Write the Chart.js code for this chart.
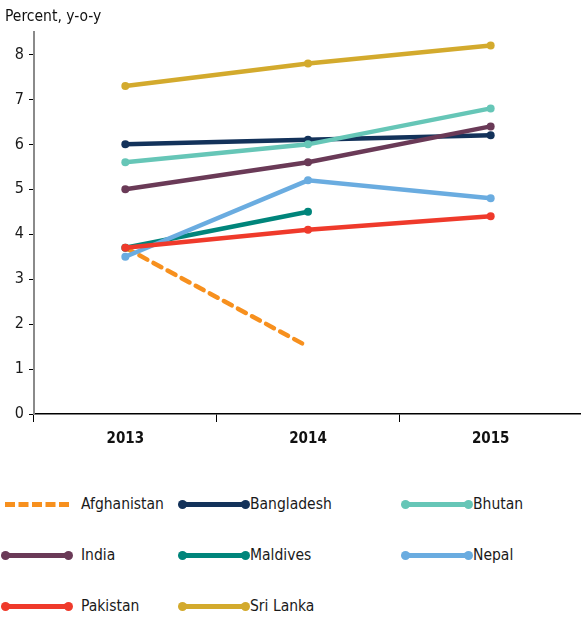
<!DOCTYPE html>
<html>
<head>
<meta charset="utf-8">
<title>Percent, y-o-y</title>
<script src="https://cdn.jsdelivr.net/npm/chart.js"></script>
<style>
  body { margin: 0; background: #fff; font-family: 'Liberation Sans Narrow', 'DejaVu Sans Condensed', sans-serif; }
  #wrap { position: relative; width: 581px; height: 618px; overflow: hidden; }
  #box { position: absolute; left: 0; top: 0; width: 586px; height: 460px; }
  #titulo { position: absolute; left: 5px; top: 7px; font-size: 15.5px; color: #111; }
  .item { position: absolute; height: 20px; display: flex; align-items: center; font-size: 15.5px; color: #1a1a1a; }
  .line { position: relative; width: 64px; height: 0; border-top: 5px solid; }
  .line.dash { border-top-style: dashed; }
  .line .dot { position: absolute; top: -7px; width: 9px; height: 9px; border-radius: 50%; }
</style>
</head>
<body>
<div id="wrap">
  <div id="box"><canvas id="grafico"></canvas></div>
  <div id="titulo">Percent, y-o-y</div>
  <div id="leyenda"></div>
</div>
<script>
// datos
const years = ['2013', '2014', '2015'];
const afghanistan = [3.7, 1.5, null];
const bangladesh = [6.0, 6.1, 6.2];
const bhutan = [5.6, 6.0, 6.8];
const india = [5.0, 5.6, 6.4];
const maldives = [3.7, 4.5, null];
const nepal = [3.5, 5.2, 4.8];
const pakistan = [3.7, 4.1, 4.4];
const sriLanka = [7.3, 7.8, 8.2];
const yTicks = [0, 1, 2, 3, 4, 5, 6, 7, 8];

const series = [
  { label: 'Afghanistan', data: afghanistan, color: '#f7901e', dash: true },
  { label: 'Bangladesh', data: bangladesh, color: '#13325a' },
  { label: 'Bhutan', data: bhutan, color: '#66c6b7' },
  { label: 'India', data: india, color: '#6a3a57' },
  { label: 'Maldives', data: maldives, color: '#00857b' },
  { label: 'Nepal', data: nepal, color: '#6aace0' },
  { label: 'Pakistan', data: pakistan, color: '#ef3a2b' },
  { label: 'Sri Lanka', data: sriLanka, color: '#d3aa2d' }
];

const fuente = "'Liberation Sans Narrow', 'DejaVu Sans Condensed', sans-serif";

const datasets = series.map((s, i) => ({
  label: s.label,
  data: s.data,
  borderColor: s.color,
  backgroundColor: s.color,
  borderWidth: 4.5,
  borderDash: s.dash ? [9, 7] : [],
  borderCapStyle: s.dash ? 'round' : 'butt',
  pointRadius: s.dash ? 0 : 4,
  pointHoverRadius: s.dash ? 0 : 4,
  pointBorderWidth: 0,
  tension: 0,
  order: series.length - i
}));

new Chart(document.getElementById('grafico'), {
  type: 'line',
  data: { labels: years, datasets: datasets },
  options: {
    responsive: true,
    maintainAspectRatio: false,
    animation: false,
    layout: { padding: { top: 32, right: 0, left: 0, bottom: 0 } },
    plugins: {
      legend: { display: false },
      tooltip: { enabled: false }
    },
    scales: {
      x: {
        offset: true,
        grid: { display: true, offset: true, drawOnChartArea: false, drawTicks: true, tickLength: 8, color: '#000', lineWidth: 1 },
        border: { display: true, color: '#000', width: 1.5 },
        ticks: { color: '#111', font: { family: fuente, size: 15, weight: 'bold' }, padding: 8 },
        afterFit: (s) => { s.height = 46; }
      },
      y: {
        min: 0,
        max: 8.5,
        afterBuildTicks: (s) => { s.ticks = yTicks.map(v => ({ value: v })); },
        grid: { display: true, drawOnChartArea: false, drawTicks: true, tickLength: 5, color: '#000', lineWidth: 1 },
        border: { display: true, color: '#8a8a8a', width: 2 },
        ticks: { color: '#1a1a1a', font: { family: fuente, size: 16 }, padding: 5 },
        afterFit: (s) => { s.width = 34; }
      }
    }
  }
});

// leyenda en html, tres columnas
const cols = [5, 182, 405];
const gaps = [12, 4, 4];
const rows = [504, 555, 606];
const ley = document.getElementById('leyenda');
series.forEach((s, i) => {
  const c = i % 3, r = Math.floor(i / 3);
  const it = document.createElement('div');
  it.className = 'item';
  it.style.left = cols[c] + 'px';
  it.style.top = (rows[r] - 10) + 'px';
  const ln = document.createElement('div');
  ln.className = 'line' + (s.dash ? ' dash' : '');
  ln.style.borderTopColor = s.color;
  if (!s.dash) {
    ln.innerHTML = '<span class="dot" style="left:-4px;background:' + s.color + '"></span>' +
                   '<span class="dot" style="right:-4px;background:' + s.color + '"></span>';
  }
  const tx = document.createElement('span');
  tx.textContent = s.label;
  tx.style.marginLeft = gaps[c] + 'px';
  it.appendChild(ln);
  it.appendChild(tx);
  ley.appendChild(it);
});
</script>
</body>
</html>
